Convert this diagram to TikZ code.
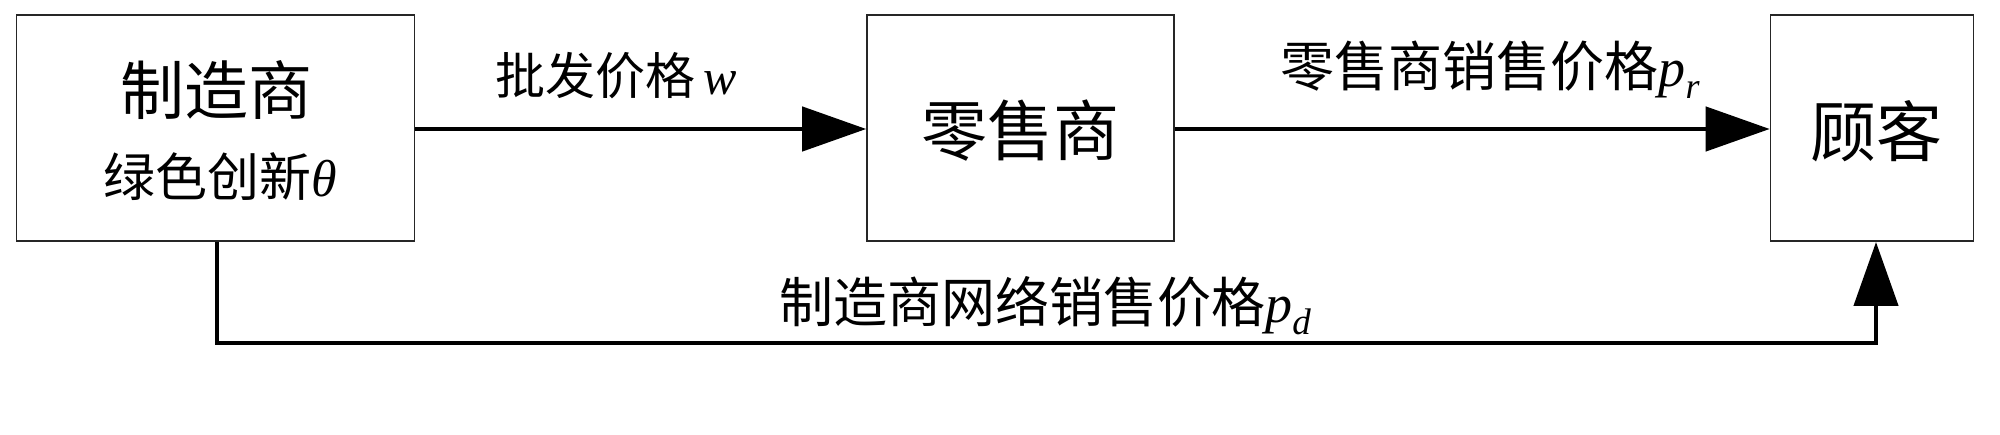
\documentclass[tikz,border=0pt]{standalone}
\usepackage{fontspec}
\setmainfont{Liberation Serif}
\newfontfamily\cjk{Noto Sans CJK SC}
\usetikzlibrary{arrows.meta}
\tikzset{
  boxnode/.style={draw=black!85, line width=1.6pt, fill=white, inner sep=0pt},
  flow/.style={line width=4.5pt, -{Triangle[length=64pt,width=44pt]}},
  lbl/.style={inner sep=0pt, anchor=center}
}
\newcommand{\fs}[1]{\fontsize{#1}{#1}\selectfont}
\newcommand{\vi}[1]{{\itshape #1}}
\begin{document}
\begin{tikzpicture}[x=1pt,y=-1pt]
\useasboundingbox[fill=white] (0,0) rectangle (2000,435);
% boxes
\node[boxnode, minimum width=398pt, minimum height=226pt] (mfr) at (215.5,128.2) {};
\node[boxnode, minimum width=307pt, minimum height=226pt] (ret) at (1020.5,128.2) {};
\node[boxnode, minimum width=203pt, minimum height=226pt] (cus) at (1872,128.2) {};
% box texts
\node[lbl] (t1) at (216,90) {\cjk\fs{64}制造商};
\node[lbl] (t2) at (220,177) {\fs{52}{\cjk 绿色创新}\vi{θ}};
\node[lbl] (t3) at (1020,131) {\cjk\fs{66}零售商};
\node[lbl] (t4) at (1876,131) {\cjk\fs{66}顾客};
% connectors
\draw[flow] (mfr.east |- 0,129) -- (ret.west |- 0,129);
\draw[flow] (ret.east |- 0,129) -- (cus.west |- 0,129);
\coordinate (c1) at (217,343);
\coordinate (c2) at (1876,343);
\draw[flow] (mfr.south -| c1) -- (c1) -- (c2) -- (cus.south -| c2);
% connector labels
\node[lbl] (l1) at (616,76) {\fs{50}{\cjk 批发价格}\,\vi{w}};
\node[lbl] (l2) at (1490,70) {\fs{54}{\cjk 零售商销售价格}\vi{p}\raisebox{-0.22em}{\fs{36}\vi{r}}};
\node[lbl] (l3) at (1045,306) {\fs{54}{\cjk 制造商网络销售价格}\vi{p}\raisebox{-0.22em}{\fs{37}\vi{d}}};
\end{tikzpicture}
\end{document}
